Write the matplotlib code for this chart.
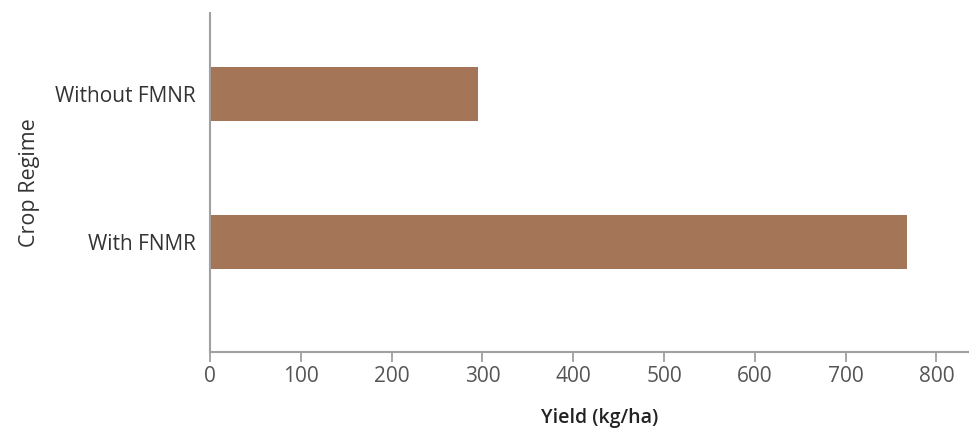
import matplotlib
matplotlib.use("Agg")
import matplotlib.pyplot as plt

# Crop yield by regime
categories = ["With FNMR", "Without FMNR"]
yields = [768, 295]
x_ticks = [0, 100, 200, 300, 400, 500, 600, 700, 800]

plt.rcParams["font.family"] = ["Open Sans", "DejaVu Sans"]

fig = plt.figure(figsize=(9.7, 4.34), dpi=100)
ax = fig.add_axes([210 / 970, 1 - 352 / 434, 1 - 210 / 970, (352 - 13) / 434])

pos = list(range(len(categories)))
ax.barh(pos, yields, height=0.365, color="#a47556")

ax.set_xlim(0, 837)
ax.set_ylim(-0.743, 1.547)
ax.set_xticks(x_ticks)
ax.set_xticklabels([str(t) for t in x_ticks])
ax.set_yticks(pos)
ax.set_yticklabels(categories)

for s in ["top", "right"]:
    ax.spines[s].set_visible(False)
for s in ["left", "bottom"]:
    ax.spines[s].set_color("#a0a0a0")
    ax.spines[s].set_linewidth(1.5)

ax.tick_params(axis="x", length=7, width=1.3, color="#a0a0a0", pad=3,
               labelsize=15, labelcolor="#555555")
ax.tick_params(axis="y", length=0, pad=10, labelsize=15, labelcolor="#333333")

ax.set_xlabel("Yield (kg/ha)", fontsize=14, fontweight=600, color="#222222")
ax.xaxis.set_label_coords(0.513, -0.166)
ax.xaxis.label.set_verticalalignment("top")
ax.set_ylabel("Crop Regime", fontsize=15.5, color="#333333", labelpad=11)

fig.savefig("out.png", dpi=100, facecolor="white")
